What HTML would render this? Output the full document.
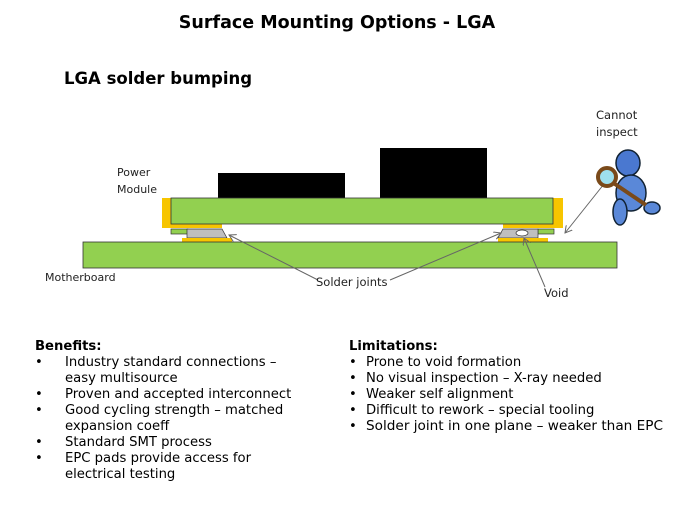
<!DOCTYPE html>
<html><head><meta charset="utf-8"><style>
body{margin:0;background:#fff;}
svg{display:block;font-family:"DejaVu Sans","Liberation Sans",sans-serif;}
</style></head><body>
<svg width="675" height="506" viewBox="0 0 675 506" xmlns="http://www.w3.org/2000/svg">
<defs><marker id="a" markerWidth="8" markerHeight="8" refX="7" refY="4" orient="auto" markerUnits="userSpaceOnUse"><path d="M0,0 L7,4 L0,8" fill="none" stroke="#666" stroke-width="1"/></marker></defs>
<text x="337" y="28" text-anchor="middle" font-size="17.5" font-weight="bold">Surface Mounting Options - LGA</text>
<text x="64" y="84" font-size="16.5" font-weight="bold">LGA solder bumping</text>
<text x="117" y="176" font-size="11" fill="#222">Power</text>
<text x="117" y="193" font-size="11" fill="#222">Module</text>
<text x="45" y="281" font-size="11" fill="#222">Motherboard</text>
<rect x="218" y="173" width="127" height="25" fill="#000"/>
<rect x="380" y="148" width="107" height="50" fill="#000"/>
<rect x="162" y="198" width="10" height="30" fill="#f7c500"/>
<rect x="553" y="198" width="10" height="30" fill="#f7c500"/>
<rect x="162" y="224" width="60" height="4" fill="#f7c500"/>
<rect x="503" y="224" width="60" height="4" fill="#f7c500"/>
<rect x="171" y="198" width="382" height="26" fill="#92d050" stroke="#333" stroke-width="0.8"/>
<rect x="171" y="229" width="17" height="5" fill="#92d050" stroke="#333" stroke-width="0.7"/>
<rect x="538" y="229" width="16" height="5" fill="#92d050" stroke="#333" stroke-width="0.7"/>
<polygon points="187,229 222,229 227,238 187,238" fill="#bfbfbf" stroke="#333" stroke-width="0.7"/>
<polygon points="503,229 538,229 538,238 498,238" fill="#bfbfbf" stroke="#333" stroke-width="0.7"/>
<rect x="182" y="238" width="50" height="4" fill="#f7c500"/>
<rect x="498" y="238" width="50" height="4" fill="#f7c500"/>
<ellipse cx="522" cy="233" rx="6" ry="3" fill="#fff" stroke="#333" stroke-width="0.7"/>
<rect x="83" y="242" width="534" height="26" fill="#92d050" stroke="#333" stroke-width="0.8"/>
<line x1="318" y1="280" x2="229" y2="235" stroke="#666" stroke-width="1" marker-end="url(#a)"/>
<line x1="390" y1="280" x2="501" y2="233" stroke="#666" stroke-width="1" marker-end="url(#a)"/>
<line x1="545" y1="287" x2="524" y2="238" stroke="#666" stroke-width="1" marker-end="url(#a)"/>
<line x1="604" y1="184" x2="565" y2="233" stroke="#666" stroke-width="1" marker-end="url(#a)"/>
<text x="316" y="286" font-size="11.5" fill="#222">Solder joints</text>
<text x="544" y="297" font-size="11.5" fill="#222">Void</text>
<text x="596" y="119" font-size="11.5" fill="#222">Cannot</text>
<text x="596" y="136" font-size="11.5" fill="#222">inspect</text>
<ellipse cx="628" cy="163" rx="12" ry="13" fill="#4a78d0" stroke="#123" stroke-width="1.5"/>
<ellipse cx="631" cy="193" rx="15" ry="18" fill="#5a88d8" stroke="#123" stroke-width="1.5"/>
<ellipse cx="620" cy="212" rx="7" ry="13" fill="#5a88d8" stroke="#123" stroke-width="1.5"/>
<ellipse cx="652" cy="208" rx="8" ry="6" fill="#5a88d8" stroke="#123" stroke-width="1.5"/>
<line x1="609" y1="180" x2="646" y2="205" stroke="#7a4a1a" stroke-width="4"/>
<circle cx="607" cy="177" r="9" fill="#9ee0ee" stroke="#7a4a1a" stroke-width="4"/>
<g font-size="13.2" fill="#000">
<text x="35" y="350" font-weight="bold">Benefits:</text>
<text x="35" y="366">•</text><text x="65" y="366">Industry standard connections –</text>
<text x="65" y="382">easy multisource</text>
<text x="35" y="398">•</text><text x="65" y="398">Proven and accepted interconnect</text>
<text x="35" y="414">•</text><text x="65" y="414">Good cycling strength – matched</text>
<text x="65" y="430">expansion coeff</text>
<text x="35" y="446">•</text><text x="65" y="446">Standard SMT process</text>
<text x="35" y="462">•</text><text x="65" y="462">EPC pads provide access for</text>
<text x="65" y="478">electrical testing</text>
<text x="349" y="350" font-weight="bold">Limitations:</text>
<text x="349" y="366">•</text><text x="366" y="366">Prone to void formation</text>
<text x="349" y="382">•</text><text x="366" y="382">No visual inspection – X-ray needed</text>
<text x="349" y="398">•</text><text x="366" y="398">Weaker self alignment</text>
<text x="349" y="414">•</text><text x="366" y="414">Difficult to rework – special tooling</text>
<text x="349" y="430">•</text><text x="366" y="430" textLength="297" lengthAdjust="spacingAndGlyphs">Solder joint in one plane – weaker than EPC</text>
</g>
</svg>
</body></html>
